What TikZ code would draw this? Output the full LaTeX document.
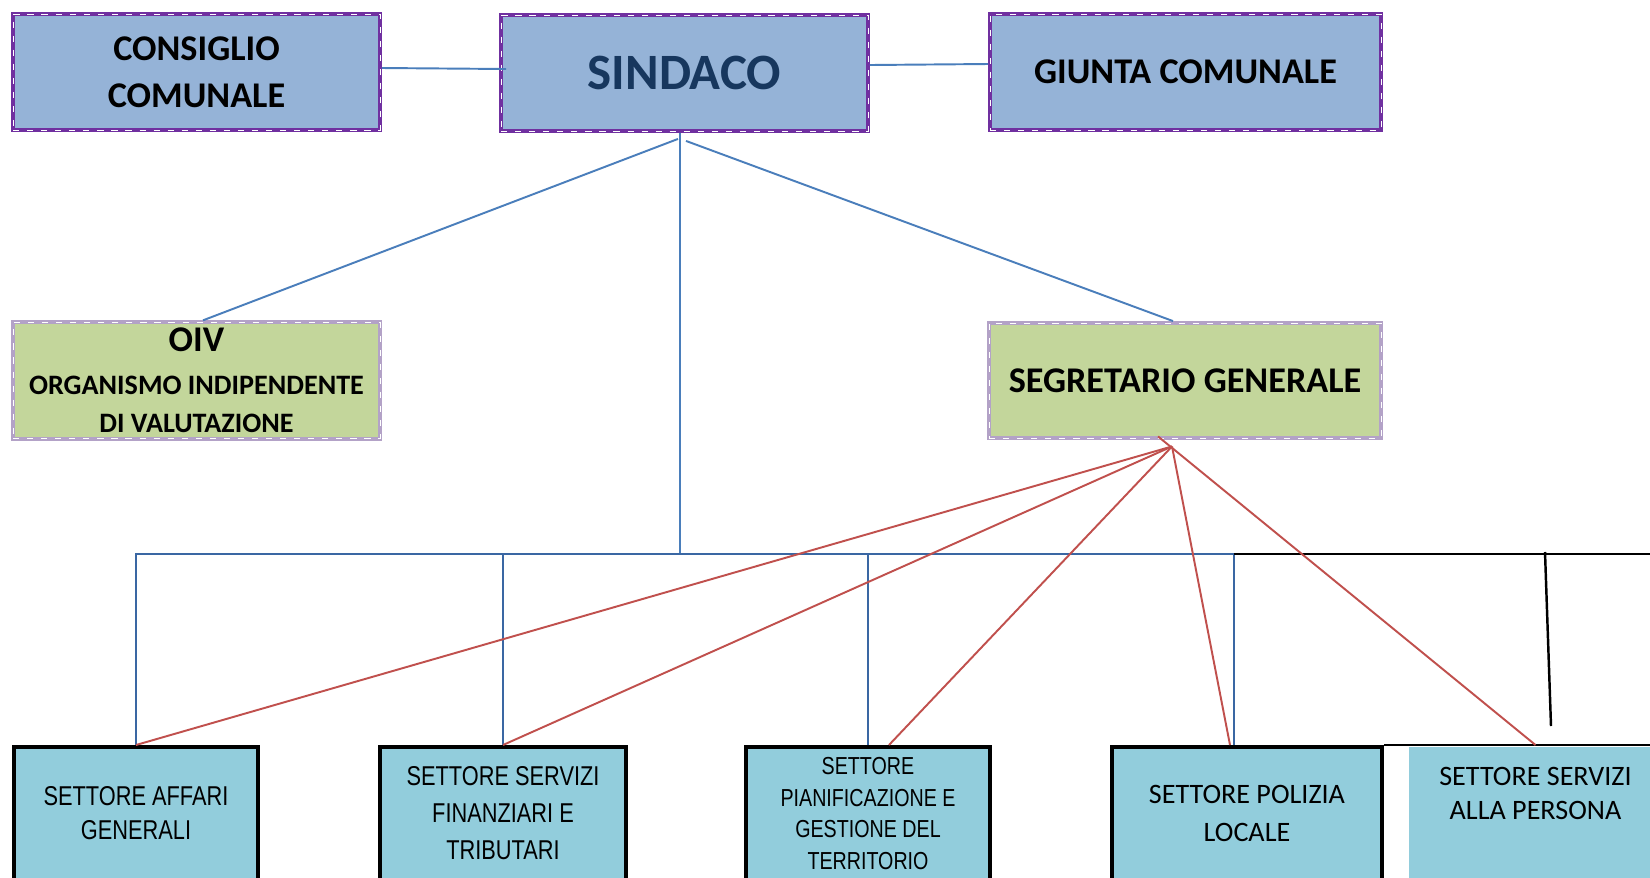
\documentclass[tikz,border=0pt]{standalone}
\usepackage{fontspec}
\setmainfont{Carlito}
\newfontfamily\narrowfont[FakeStretch=0.8]{Liberation Sans}
\usepackage{tikz}
\definecolor{topfill}{HTML}{95B3D7}
\definecolor{topedge}{HTML}{7030A0}
\definecolor{midfill}{HTML}{C3D69B}
\definecolor{midedge}{HTML}{B3A2C7}
\definecolor{lowfill}{HTML}{92CDDC}
\definecolor{sindtext}{HTML}{17375E}
\definecolor{blueline}{HTML}{4A7EBB}
\definecolor{busline}{HTML}{3A67A3}
\definecolor{redline}{HTML}{C0504D}

\begin{document}
\begin{tikzpicture}[x=0.02cm,y=-0.02cm,
    topbox/.style={draw=topedge,fill=topfill,line width=2.2pt,minimum height=2.32cm,
        postaction={draw=white,line width=0.45pt,dash pattern=on 3.5pt off 4.5pt}},
    midbox/.style={topbox,draw=midedge,fill=midfill,minimum height=2.3cm},
    lowbox/.style={draw=black,fill=lowfill,line width=2.3pt,minimum height=2.66cm,align=center},
    bigfont/.style={font=\fontsize{20.6}{27}\selectfont\bfseries},
    link/.style={blueline,line width=1.1pt},
    bus/.style={busline,line width=1.6pt},
    redlink/.style={redline,line width=1.1pt},
    blackline/.style={black,line width=1.4pt}]
    \useasboundingbox (0,0) rectangle (1650,877);
    \clip (0,0) rectangle (1650,877);
    % top row
    \node[topbox,bigfont,minimum width=7.34cm,align=center] (consiglio) at (196.5,72) {CONSIGLIO\\COMUNALE};
    \node[topbox,minimum width=7.34cm,text=sindtext,font=\fontsize{29}{34}\selectfont\bfseries] (sindaco) at (684.5,73) {SINDACO};
    \node[topbox,bigfont,minimum width=7.82cm] (giunta) at (1185.5,72) {GIUNTA COMUNALE};
    % middle row
    \node[midbox,minimum width=7.34cm,align=center,font=\fontsize{16}{21}\selectfont\bfseries] (oiv) at (196.5,380.5)
        {{\fontsize{20.6}{25}\selectfont OIV}\\[3pt]ORGANISMO INDIPENDENTE\\[1pt]DI VALUTAZIONE};
    \node[midbox,bigfont,minimum width=7.84cm] (segretario) at (1185,380.5) {SEGRETARIO GENERALE};
    % settori
    \node[lowbox,minimum width=4.88cm,font=\narrowfont\fontsize{15.5}{19.3}\selectfont] (affari) at (136,813.5) {SETTORE AFFARI\\GENERALI};
    \node[lowbox,minimum width=4.92cm,font=\narrowfont\fontsize{15.5}{21}\selectfont] (finanz) at (503,813.5) {SETTORE SERVIZI\\FINANZIARI E\\TRIBUTARI};
    \node[lowbox,minimum width=4.88cm,font=\narrowfont\fontsize{14}{18.1}\selectfont] (pianif) at (868,813.5) {SETTORE\\PIANIFICAZIONE E\\GESTIONE DEL\\TERRITORIO};
    \node[lowbox,minimum width=5.4cm,font=\fontsize{16}{21.5}\selectfont] (polizia) at (1247,813.5) {SETTORE POLIZIA\\LOCALE};
    \node[lowbox,draw=none,minimum width=5.06cm,font=\fontsize{16}{19.3}\selectfont] (persona) at (1535.5,813.5) {SETTORE SERVIZI\\ALLA PERSONA\\[4pt]\mbox{}};
    % blue links
    \draw[link] ([yshift=0.08cm]consiglio.east) -- ([xshift=0.14cm,yshift=0.08cm]sindaco.west);
    \draw[link] ([yshift=0.16cm]sindaco.east) -- ([yshift=0.16cm]giunta.west);
    \draw[link] ([xshift=-0.13cm,yshift=-0.12cm]sindaco.south) -- ([xshift=0.13cm]oiv.north);
    \draw[link] ([xshift=0.03cm,yshift=-0.16cm]sindaco.south) -- ([xshift=-0.24cm]segretario.north);
    \coordinate (hub) at (680,554);
    \draw[link] (hub |- sindaco.south) -- (hub);
    \draw[bus] (affari.north) |- ([xshift=-0.26cm]polizia.north |- hub) -- ([xshift=-0.26cm]polizia.north);
    \draw[bus] (finanz.north) -- (finanz.north |- hub);
    \draw[bus] (pianif.north) -- (pianif.north |- hub);
    % black lines
    \coordinate (busend) at (1650,554);
    \coordinate (tickA) at (1545,552);
    \coordinate (tickB) at (1551,726);
    \draw[blackline] ([xshift=-0.26cm]polizia.north |- hub) -- (busend);
    \draw[blackline] (tickA) -- (tickB);
    \draw[black,line width=0.8pt] (polizia.north east) -- (persona.north east);
    % red links
    \coordinate (apex) at ([xshift=-0.26cm,yshift=-0.13cm]segretario.south);
    \draw[redlink] (apex) -- (affari.north);
    \draw[redlink] (apex) -- (finanz.north);
    \draw[redlink] (apex) -- ([xshift=0.42cm]pianif.north);
    \draw[redlink] (apex) -- ([xshift=-0.34cm]polizia.north);
    \draw[redlink] ([xshift=-0.54cm,yshift=0.07cm]segretario.south) -- (persona.north);
\end{tikzpicture}
\end{document}
